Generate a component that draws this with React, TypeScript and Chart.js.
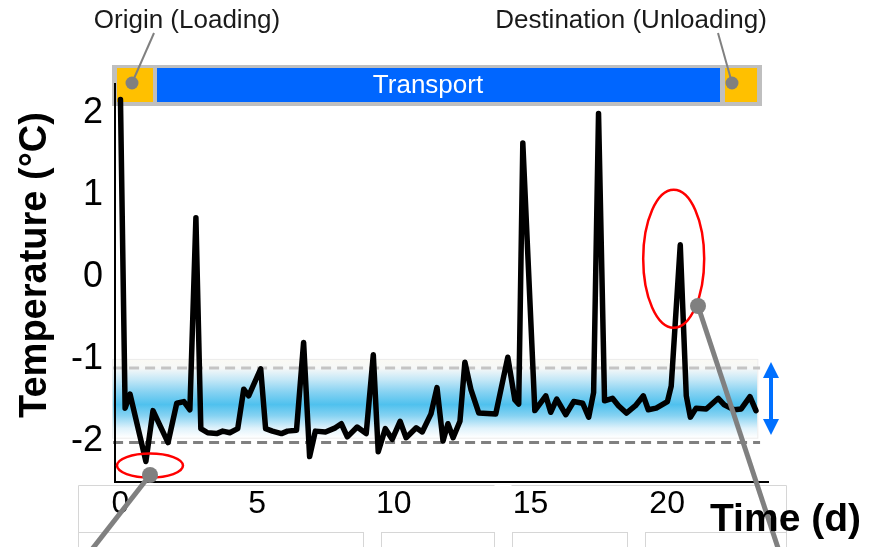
import React, { useEffect, useRef } from "react";
import { Chart, registerables } from "chart.js";

Chart.register(...registerables);

// ---- data ----
const days = [
  0, 0.17, 0.35, 0.93, 1.19, 1.74, 2.06, 2.32, 2.54, 2.76, 2.94, 3.19, 3.52, 3.74, 4.0, 4.29,
  4.51, 4.69, 5.13, 5.31, 5.56, 5.89, 6.11, 6.44, 6.7, 6.92, 7.13, 7.5, 7.86, 8.08, 8.3, 8.66,
  8.99, 9.25, 9.43, 9.69, 9.94, 10.23, 10.45, 10.82, 11.04, 11.36, 11.58, 11.8, 11.98, 12.17,
  12.42, 12.6, 12.82, 13.11, 13.73, 14.17, 14.43, 14.57, 14.72, 15.16, 15.56, 15.74, 15.96,
  16.29, 16.58, 16.91, 17.13, 17.31, 17.49, 17.71, 18.0, 18.22, 18.51, 18.84, 19.13, 19.31,
  19.6, 20.01, 20.15, 20.48, 20.7, 20.85, 21.06, 21.43, 21.87, 22.09, 22.45, 22.71, 23.03, 23.25,
];
const temps = [
  2.16, -1.6, -1.43, -2.25, -1.63, -2.02, -1.54, -1.52, -1.62, 0.72, -1.85, -1.9, -1.91, -1.88,
  -1.9, -1.85, -1.37, -1.45, -1.12, -1.85, -1.88, -1.91, -1.88, -1.87, -0.8, -2.19, -1.88,
  -1.89, -1.84, -1.79, -1.95, -1.83, -1.91, -0.95, -2.13, -1.85, -1.98, -1.76, -1.96, -1.84,
  -1.89, -1.67, -1.35, -2.0, -1.79, -1.96, -1.76, -1.04, -1.37, -1.66, -1.67, -0.98, -1.5,
  -1.55, 1.63, -1.63, -1.45, -1.65, -1.49, -1.68, -1.52, -1.54, -1.71, -1.41, 1.99, -1.51,
  -1.48, -1.57, -1.66, -1.57, -1.45, -1.62, -1.6, -1.52, -1.33, 0.39, -1.45, -1.71, -1.6,
  -1.61, -1.48, -1.56, -1.62, -1.61, -1.46, -1.63,
];
const xTickValues = [0, 5, 10, 15, 20];
const yTickValues = [-2, -1, 0, 1, 2];
const stageLabels = ["Origin (Loading)", "Transport", "Destination (Unloading)"];
const xTitle = "Time (d)";
const yTitle = "Temperature (°C)";
const bandRange = [-1.0, -1.96];
const limitLines = [-1.11, -2.02];

const FONT = "'Liberation Sans', Arial, Helvetica, sans-serif";

function ellipse(ctx: CanvasRenderingContext2D, cx: number, cy: number, rx: number, ry: number) {
  ctx.beginPath();
  ctx.ellipse(cx, cy, rx, ry, 0, 0, Math.PI * 2);
  ctx.stroke();
}

function dot(ctx: CanvasRenderingContext2D, cx: number, cy: number, r: number) {
  ctx.beginPath();
  ctx.arc(cx, cy, r, 0, Math.PI * 2);
  ctx.fill();
}

function line(ctx: CanvasRenderingContext2D, x0: number, y0: number, x1: number, y1: number) {
  ctx.beginPath();
  ctx.moveTo(x0, y0);
  ctx.lineTo(x1, y1);
  ctx.stroke();
}

const decorPlugin = {
  id: "decor",
  beforeDraw(chart: any) {
    const { ctx } = chart;
    const x = chart.scales.x;
    const y = chart.scales.y;
    ctx.save();
    // acceptable range band
    const bx0 = x.getPixelForValue(-0.3);
    const bx1 = x.getPixelForValue(23.3);
    const by0 = y.getPixelForValue(bandRange[0]);
    const by1 = y.getPixelForValue(bandRange[1]);
    const g = ctx.createLinearGradient(0, by0, 0, by1);
    g.addColorStop(0, "#faf9f3");
    g.addColorStop(0.12, "#f6f8f8");
    g.addColorStop(0.26, "#c6e8f7");
    g.addColorStop(0.42, "#86d2f2");
    g.addColorStop(0.58, "#4fc1ee");
    g.addColorStop(0.72, "#86d2f2");
    g.addColorStop(0.88, "#dff2fb");
    g.addColorStop(1, "#ffffff");
    ctx.fillStyle = g;
    ctx.fillRect(bx0, by0, bx1 - bx0, by1 - by0);
    ctx.strokeStyle = "#ececec";
    ctx.lineWidth = 1;
    ctx.strokeRect(bx0 + 0.5, by0 + 0.5, bx1 - bx0, by1 - by0);

    // limit dashed lines
    const lx0 = x.getPixelForValue(-0.27);
    const lx1 = x.getPixelForValue(23.4);
    ctx.setLineDash([10, 6]);
    ctx.lineWidth = 3;
    ctx.strokeStyle = "#c4c4c4";
    line(ctx, lx0, y.getPixelForValue(limitLines[0]), lx1, y.getPixelForValue(limitLines[0]));
    ctx.strokeStyle = "#808080";
    line(ctx, lx0, y.getPixelForValue(limitLines[1]), lx1, y.getPixelForValue(limitLines[1]));
    ctx.setLineDash([]);

    // transport stage bar
    ctx.fillStyle = "#bfbfbf";
    ctx.fillRect(112, 65, 650, 41);
    ctx.fillStyle = "#ffc000";
    ctx.fillRect(117, 68, 36, 34);
    ctx.fillRect(725, 68, 32, 34);
    ctx.fillStyle = "#0066ff";
    ctx.fillRect(157, 68, 563, 34);
    ctx.fillStyle = "#ffffff";
    ctx.font = `26px ${FONT}`;
    ctx.textAlign = "center";
    ctx.textBaseline = "middle";
    ctx.fillText(stageLabels[1], 428, 86);

    // tick label frames
    ctx.strokeStyle = "#d6d6d6";
    ctx.lineWidth = 1;
    ctx.beginPath();
    ctx.moveTo(78.5, 532.5);
    ctx.lineTo(78.5, 485.5);
    ctx.lineTo(494.5, 485.5);
    ctx.moveTo(511.5, 485.5);
    ctx.lineTo(786.5, 485.5);
    ctx.lineTo(786.5, 532.5);
    ctx.stroke();
    const boxes = [
      [78, 363],
      [381, 494],
      [512, 627],
      [645, 786],
    ];
    boxes.forEach(([a, b]) => {
      ctx.strokeRect(a + 0.5, 532.5, b - a, 40);
    });
    ctx.restore();
  },
  afterDatasetsDraw(chart: any) {
    const { ctx } = chart;
    const x = chart.scales.x;
    const y = chart.scales.y;
    ctx.save();
    // stage labels
    ctx.fillStyle = "#1a1a1a";
    ctx.font = `26px ${FONT}`;
    ctx.textAlign = "center";
    ctx.textBaseline = "middle";
    ctx.fillText(stageLabels[0], 187, 21);
    ctx.fillText(stageLabels[2], 631, 21);

    // thin leaders to stage boxes
    ctx.strokeStyle = "#808080";
    ctx.fillStyle = "#808080";
    ctx.lineWidth = 2;
    line(ctx, 154, 33, 132, 83);
    dot(ctx, 132, 83, 6.5);
    line(ctx, 718, 33, 732, 83);
    dot(ctx, 732, 83, 6.5);

    // red ellipses
    ctx.strokeStyle = "#ff0000";
    ctx.lineWidth = 2.5;
    ellipse(ctx, x.getPixelForValue(1.08), y.getPixelForValue(-2.3), 33, 12);
    ellipse(ctx, x.getPixelForValue(20.24), y.getPixelForValue(0.22), 30.5, 69);

    // thick leaders
    ctx.strokeStyle = "#808080";
    ctx.fillStyle = "#808080";
    ctx.lineWidth = 5;
    line(ctx, 150, 475, 86, 557);
    dot(ctx, 150, 475, 8);
    line(ctx, 698, 306, 781, 557);
    dot(ctx, 698, 306, 8);

    // blue double arrow
    ctx.fillStyle = "#0070ff";
    ctx.fillRect(769, 374, 4, 48);
    ctx.beginPath();
    ctx.moveTo(771, 362);
    ctx.lineTo(779, 378);
    ctx.lineTo(763, 378);
    ctx.closePath();
    ctx.fill();
    ctx.beginPath();
    ctx.moveTo(771, 435);
    ctx.lineTo(779, 419);
    ctx.lineTo(763, 419);
    ctx.closePath();
    ctx.fill();

    // axis titles
    ctx.fillStyle = "#000000";
    ctx.font = `bold 39px ${FONT}`;
    ctx.textAlign = "left";
    ctx.textBaseline = "alphabetic";
    ctx.fillText(xTitle, 710, 531);
    ctx.translate(46, 265);
    ctx.rotate(-Math.PI / 2);
    ctx.font = `bold 38px ${FONT}`;
    ctx.textAlign = "center";
    ctx.fillText(yTitle, 0, 0);
    ctx.restore();
  },
};

export default function App() {
  const ref = useRef<HTMLCanvasElement | null>(null);
  useEffect(() => {
    document.body.style.margin = "0";
    const canvas = ref.current;
    if (!canvas) return;
    const points = days.map((d, i) => ({ x: d, y: temps[i] }));
    const chart = new Chart(canvas, {
      type: "line",
      data: {
        datasets: [
          {
            data: points,
            borderColor: "#000000",
            borderWidth: 5.5,
            pointRadius: 0,
            tension: 0,
            borderJoinStyle: "round",
            borderCapStyle: "round",
            fill: false,
          },
        ],
      },
      options: {
        animation: false,
        responsive: true,
        maintainAspectRatio: false,
        layout: { padding: { left: 0, top: 84, right: 101, bottom: 0 } },
        plugins: { legend: { display: false }, tooltip: { enabled: false } },
        scales: {
          x: {
            type: "linear",
            min: -0.2,
            max: 23.69,
            afterBuildTicks: (s: any) => {
              s.ticks = xTickValues.map((v) => ({ value: v }));
            },
            afterFit: (s: any) => {
              s.height = 65;
            },
            grid: { display: false, drawTicks: false },
            border: { display: true, color: "#000000", width: 2 },
            ticks: {
              autoSkip: false,
              maxRotation: 0,
              padding: 3,
              color: "#000000",
              font: { family: FONT, size: 32 },
            },
          },
          y: {
            type: "linear",
            min: -2.5,
            max: 2.35,
            afterBuildTicks: (s: any) => {
              s.ticks = yTickValues.map((v) => ({ value: v }));
            },
            afterFit: (s: any) => {
              s.width = 115;
            },
            grid: { display: false, drawTicks: false },
            border: { display: true, color: "#000000", width: 2 },
            ticks: {
              padding: 12,
              color: "#000000",
              font: { family: FONT, size: 36 },
            },
          },
        },
      },
      plugins: [decorPlugin],
    });
    return () => chart.destroy();
  }, []);
  return (
    <div style={{ position: "absolute", left: 0, top: 0, width: 869, height: 547 }}>
      <canvas ref={ref} />
    </div>
  );
}
